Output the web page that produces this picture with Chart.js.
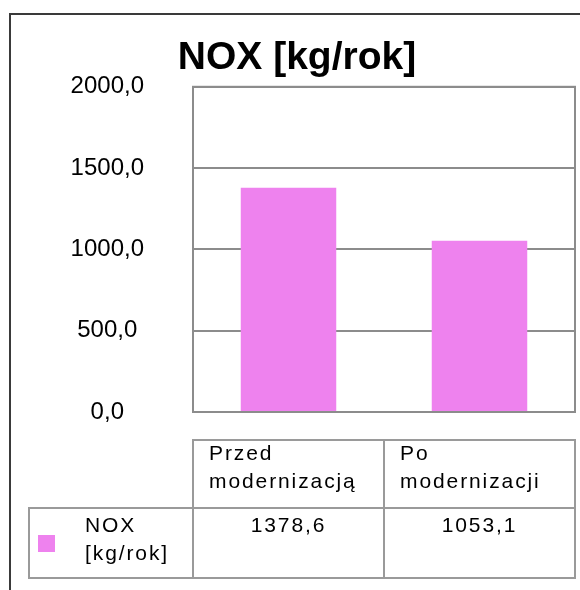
<!DOCTYPE html>
<html>
<head>
<meta charset="utf-8">
<script src="https://cdn.jsdelivr.net/npm/chart.js@4/dist/chart.umd.min.js"></script>
<style>
html,body{margin:0;padding:0;background:#fff;}
#wrap{position:relative;width:580px;height:590px;overflow:hidden;}
#frame{position:absolute;left:9px;top:13px;width:700px;height:700px;border:2px solid #3a3a3a;box-sizing:border-box;}
#c{position:absolute;left:0;top:0;}
.cell{position:absolute;box-sizing:border-box;border:2px solid #9a9a9a;font:21px "Liberation Sans",Arial,sans-serif;letter-spacing:1.9px;line-height:28px;color:#000;white-space:nowrap;}
.swatch{position:absolute;width:17px;height:17px;}
</style>
</head>
<body>
<div id="wrap">
  <div id="frame"></div>
  <canvas id="c" width="580" height="590"></canvas>
  <div id="table"></div>
</div>
<script>
// ---- data ----
const categories = ['Przed modernizacją', 'Po modernizacji'];
const seriesName = 'NOX [kg/rok]';
const noxValues = [1378.6, 1053.1];
const yTickLabels = ['0,0', '500,0', '1000,0', '1500,0', '2000,0'];
const titleText = 'NOX [kg/rok]';
const barColor = '#EE82EE';

const plotBorder = {
  id: 'plotBorder',
  afterDatasetsDraw(chart) {
    const a = chart.chartArea, ctx = chart.ctx;
    ctx.save();
    ctx.strokeStyle = '#8c8c8c';
    ctx.lineWidth = 2;
    ctx.strokeRect(a.left, a.top, a.right - a.left, a.bottom - a.top);
    ctx.restore();
  }
};

const chart = new Chart(document.getElementById('c'), {
  type: 'bar',
  data: {
    labels: categories,
    datasets: [{
      label: seriesName,
      data: noxValues,
      backgroundColor: barColor,
      borderWidth: 0,
      barPercentage: 0.5,
      categoryPercentage: 1
    }]
  },
  options: {
    responsive: false,
    animation: false,
    devicePixelRatio: 1,
    layout: { padding: { left: 19, right: 5, top: 0, bottom: 178 } },
    plugins: {
      legend: { display: false },
      tooltip: { enabled: false },
      title: {
        display: true,
        text: titleText,
        color: '#000',
        font: { family: 'Liberation Sans', size: 39, weight: 'bold' },
        padding: { top: 35, bottom: 5 }
      }
    },
    scales: {
      x: {
        ticks: { display: false },
        grid: { display: false, drawTicks: false },
        border: { display: false }
      },
      y: {
        min: 0,
        max: 2000,
        ticks: {
          stepSize: 500,
          callback: (v, i) => yTickLabels[i],
          color: '#000',
          font: { family: 'Liberation Sans', size: 24 },
          crossAlign: 'center',
          padding: 49
        },
        grid: { color: '#8c8c8c', lineWidth: 2, drawTicks: false },
        border: { display: false },
        afterFit(s) { s.width = 174; }
      }
    }
  },
  plugins: [plotBorder]
});

// ---- data table below the plot, aligned with the category scale ----
(function buildTable() {
  const a = chart.chartArea;
  const xs = chart.scales.x;
  const n = categories.length;
  const edges = [a.left];
  for (let i = 0; i < n - 1; i++) {
    edges.push(Math.round((xs.getPixelForValue(i) + xs.getPixelForValue(i + 1)) / 2));
  }
  edges.push(a.right);
  const t = document.getElementById('table');
  const headTop = 439, headBot = 509, rowTop = 507, rowBot = 579, legLeft = 28;
  function cell(x0, y0, x1, y1, html, style) {
    const d = document.createElement('div');
    d.className = 'cell';
    d.style.left = x0 + 'px';
    d.style.top = y0 + 'px';
    d.style.width = (x1 - x0) + 'px';
    d.style.height = (y1 - y0) + 'px';
    if (style) Object.assign(d.style, style);
    d.innerHTML = html;
    t.appendChild(d);
    return d;
  }
  for (let i = 0; i < n; i++) {
    const x0 = Math.round(edges[i]) - 1, x1 = Math.round(edges[i + 1]) + 1;
    cell(x0, headTop, x1, headBot,
      '<div style="margin-top:-2px">' + categories[i].split(' ').join('<br>') + '</div>',
      { paddingLeft: '15px' });
    cell(x0, rowTop, x1, rowBot,
      noxValues[i].toFixed(1).replace('.', ','),
      { textAlign: 'center', paddingTop: '2px' });
  }
  const lg = cell(legLeft, rowTop, Math.round(a.left) + 1, rowBot,
    seriesName.split(' ').join('<br>'),
    { paddingLeft: '55px', paddingTop: '2px' });
  const sw = document.createElement('div');
  sw.className = 'swatch';
  sw.style.background = barColor;
  sw.style.left = (38 - legLeft - 2) + 'px';
  sw.style.top = (535 - rowTop - 2) + 'px';
  lg.appendChild(sw);
})();
</script>
</body>
</html>
